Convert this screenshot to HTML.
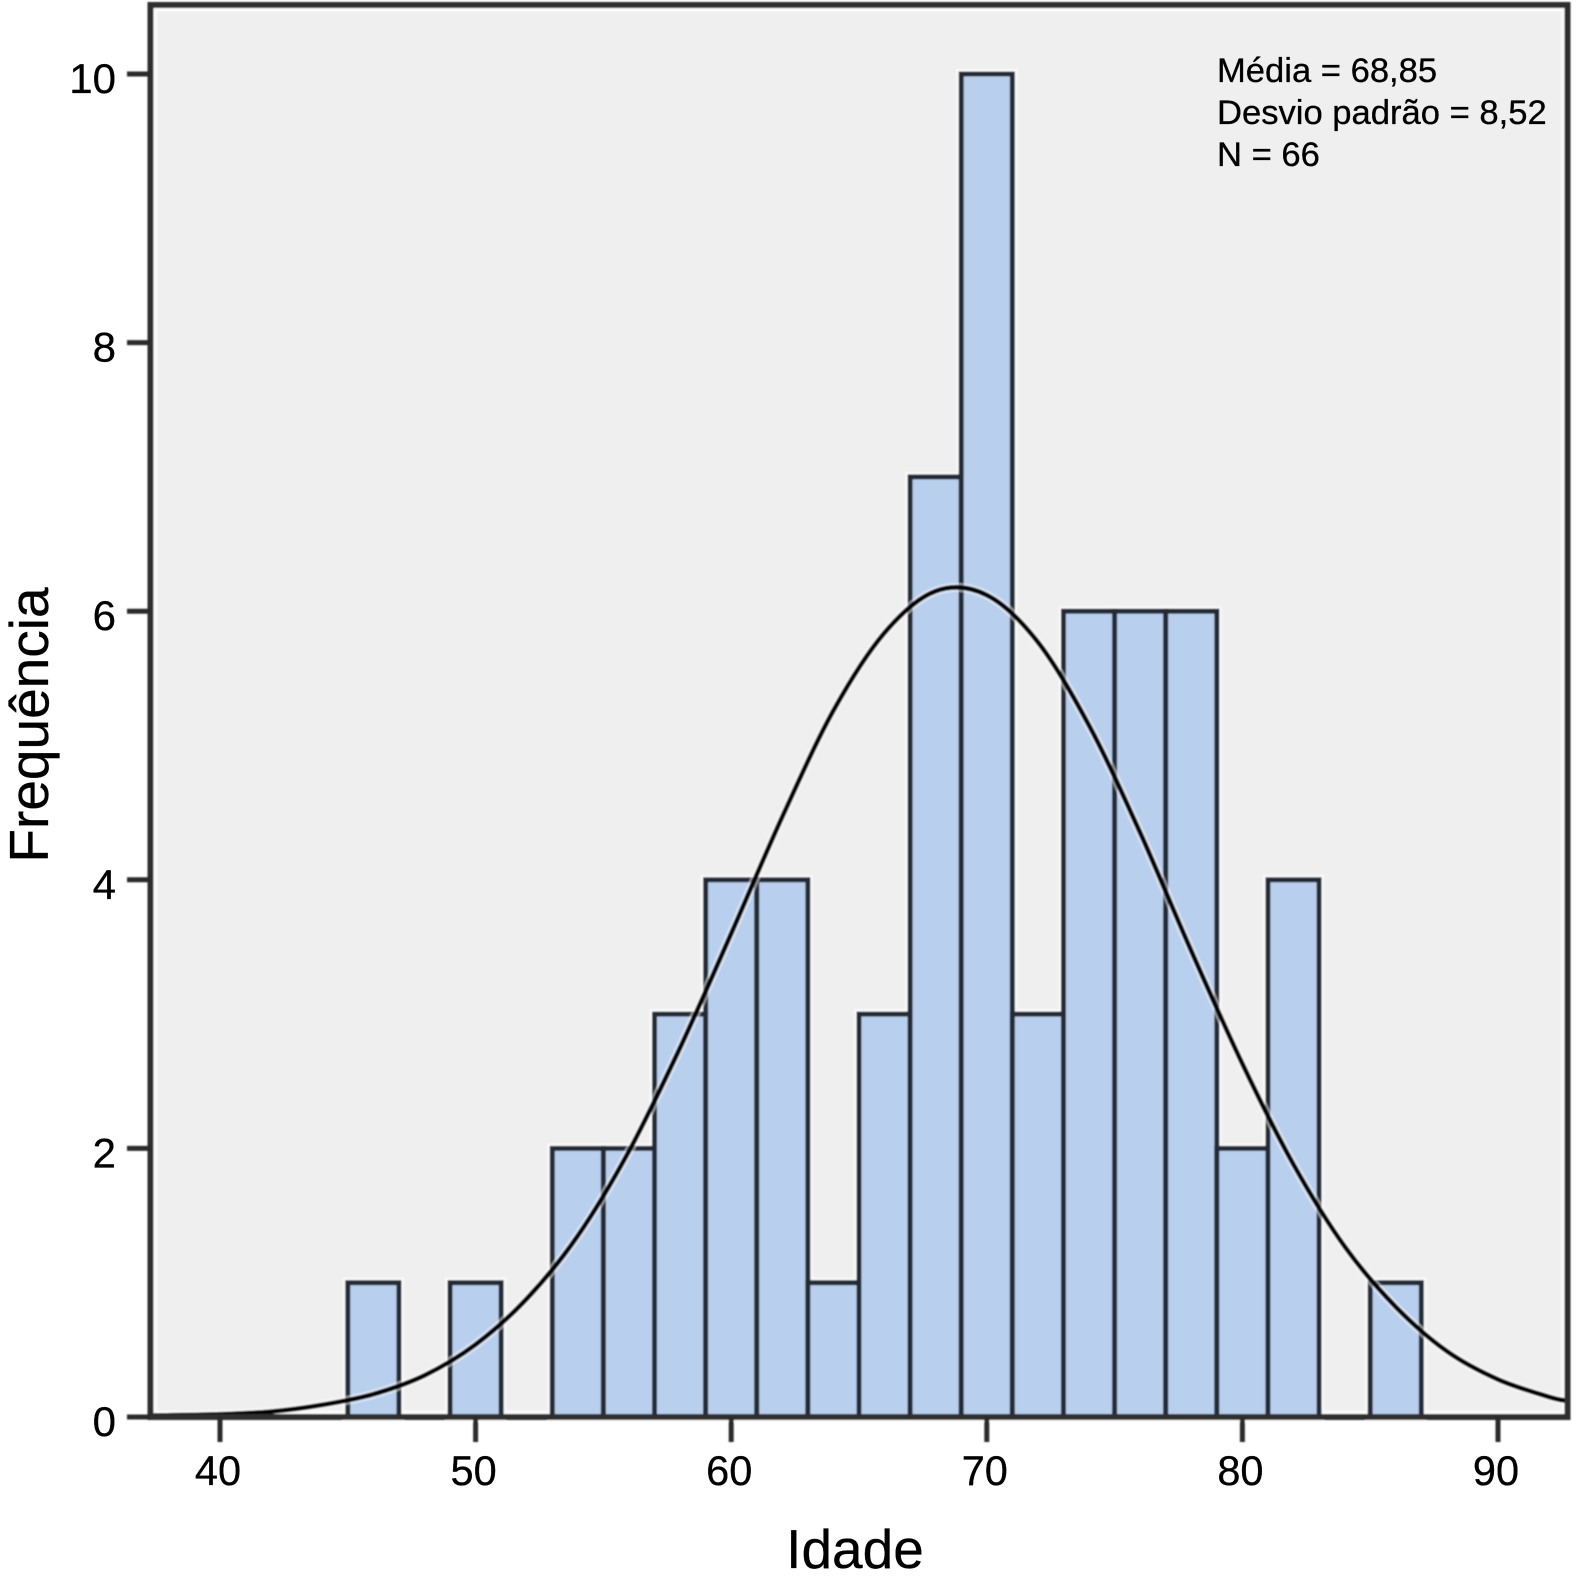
<!DOCTYPE html>
<html lang="pt">
<head>
<meta charset="utf-8">
<title>Histograma de Idade</title>
<style>
html,body{margin:0;padding:0;background:#fff;width:1578px;height:1579px;overflow:hidden}
svg{display:block}
text{font-family:"Liberation Sans",Arial,sans-serif;fill:#000;stroke:#000;stroke-width:0.3px}
</style>
</head>
<body>
<svg id="chart" xmlns="http://www.w3.org/2000/svg" width="1578" height="1579" viewBox="0 0 1578 1579">
  <defs>
    <filter id="soft" x="-2%" y="-2%" width="104%" height="104%"><feGaussianBlur stdDeviation="0.75"/></filter>
    <filter id="softText" x="-5%" y="-5%" width="110%" height="110%"><feGaussianBlur stdDeviation="0.35"/></filter>
    <clipPath id="plotClip"><rect x="150" y="5" width="1418" height="1412"/></clipPath>
  </defs>
  <rect x="0" y="0" width="1578" height="1579" fill="#ffffff"/>
  <g id="marks" filter="url(#soft)">
    <rect x="150" y="5" width="1418" height="1412" fill="#efefef"/>
    <rect x="155.5" y="10" width="1407" height="1402" fill="none" stroke="#fbfbfb" stroke-width="3"/>
    <g id="bars"></g>
    <g id="curve" clip-path="url(#plotClip)"></g>
    <rect x="150.5" y="5" width="1417" height="1412" fill="none" stroke="#2e2e2e" stroke-width="6"/>
    <g id="ticks"></g>
  </g>
  <g id="labels" filter="url(#softText)"></g>
  <g filter="url(#softText)">
    <text x="1217" y="82" font-size="34.6">Média = 68,85</text>
    <text x="1217" y="124" font-size="34.6">Desvio padrão = 8,52</text>
    <text x="1217" y="166" font-size="34.6">N = 66</text>
    <text x="855" y="1568" font-size="55" text-anchor="middle">Idade</text>
    <text transform="translate(48 725) rotate(-90)" font-size="55" text-anchor="middle">Frequência</text>
  </g>
</svg>
<script>
const binStarts = [45, 49, 53, 55, 57, 59, 61, 63, 65, 67, 69, 71, 73, 75, 77, 79, 81, 85];
const binCounts = [1, 1, 2, 2, 3, 4, 4, 1, 3, 7, 10, 3, 6, 6, 6, 2, 4, 1];
const binWidth = 2;
const xTickValues = [40, 50, 60, 70, 80, 90];
const yTickValues = [0, 2, 4, 6, 8, 10];
const curveAges = [37.3, 40, 42, 44, 46, 48, 50, 52, 54, 56, 58, 60, 62, 64, 66, 68, 70, 72, 74, 76, 78, 80, 82, 84, 86, 88, 90, 92, 92.7];
const curveFreqs = [0.01, 0.02, 0.04, 0.09, 0.17, 0.31, 0.54, 0.88, 1.35, 1.98, 2.75, 3.6, 4.47, 5.26, 5.84, 6.15, 6.12, 5.77, 5.15, 4.35, 3.47, 2.63, 1.88, 1.27, 0.82, 0.49, 0.28, 0.15, 0.12];

const NS = 'http://www.w3.org/2000/svg';
const xScale = v => 220 + (v - 40) * 25.56;
const yScale = v => 1417 - v * 134.3;
const make = (tag, parent) => { const el = document.createElementNS(NS, tag); parent.appendChild(el); return el; };

const barsGroup = document.getElementById('bars');
binStarts.forEach((start, i) => {
  const x0 = xScale(start), x1 = xScale(start + binWidth), yTop = yScale(binCounts[i]), yBase = yScale(0);
  const halo = make('rect', barsGroup);
  
  
  halo.setAttribute('x', x0);
  halo.setAttribute('y', yTop);
  halo.setAttribute('width', x1 - x0);
  halo.setAttribute('height', yBase - yTop);
  halo.setAttribute('fill', 'none');
  halo.setAttribute('stroke', '#fafafa');
  halo.setAttribute('stroke-width', '10');
});
binStarts.forEach((start, i) => {
  const x0 = xScale(start), x1 = xScale(start + binWidth), yTop = yScale(binCounts[i]), yBase = yScale(0);
  const bar = make('rect', barsGroup);
  
  
  bar.setAttribute('x', x0);
  bar.setAttribute('y', yTop);
  bar.setAttribute('width', x1 - x0);
  bar.setAttribute('height', yBase - yTop);
  bar.setAttribute('fill', '#b9cfee');
  bar.setAttribute('stroke', '#232b35');
  bar.setAttribute('stroke-width', '5');
});

const pts = curveAges.map((a, i) => [xScale(a), yScale(curveFreqs[i])]);
let d = 'M' + pts[0][0].toFixed(1) + ' ' + pts[0][1].toFixed(1);
for (let i = 0; i < pts.length - 1; i++) {
  const p0 = pts[Math.max(i - 1, 0)], p1 = pts[i], p2 = pts[i + 1], p3 = pts[Math.min(i + 2, pts.length - 1)];
  const c1x = p1[0] + (p2[0] - p0[0]) / 6, c1y = p1[1] + (p2[1] - p0[1]) / 6;
  const c2x = p2[0] - (p3[0] - p1[0]) / 6, c2y = p2[1] - (p3[1] - p1[1]) / 6;
  d += ' C' + c1x.toFixed(1) + ' ' + c1y.toFixed(1) + ' ' + c2x.toFixed(1) + ' ' + c2y.toFixed(1) + ' ' + p2[0].toFixed(1) + ' ' + p2[1].toFixed(1);
}
const curveGroup = document.getElementById('curve');
const curveHalo = make('path', curveGroup);


curveHalo.setAttribute('d', d);
curveHalo.setAttribute('fill', 'none');
curveHalo.setAttribute('stroke', '#ffffff');
curveHalo.setAttribute('stroke-opacity', '0.5');
curveHalo.setAttribute('stroke-width', '9');
const curveLine = make('path', curveGroup);


curveLine.setAttribute('d', d);
curveLine.setAttribute('fill', 'none');
curveLine.setAttribute('stroke', '#000000');
curveLine.setAttribute('stroke-width', '4.8');

const tickGroup = document.getElementById('ticks');
const labelGroup = document.getElementById('labels');
xTickValues.forEach(v => {
  const t = make('line', tickGroup);
  
  
  t.setAttribute('x1', xScale(v));
  t.setAttribute('x2', xScale(v));
  t.setAttribute('y1', 1417);
  t.setAttribute('y2', 1442);
  t.setAttribute('stroke', '#2a2a2a');
  t.setAttribute('stroke-width', '5');
  const l = make('text', labelGroup);
  
  
  l.setAttribute('x', xScale(v) - 2);
  l.setAttribute('y', 1485);
  l.setAttribute('font-size', '41.5');
  l.setAttribute('text-anchor', 'middle');
  l.textContent = v;
});
yTickValues.forEach(v => {
  const t = make('line', tickGroup);
  
  
  t.setAttribute('x1', 127);
  t.setAttribute('x2', 150);
  t.setAttribute('y1', yScale(v));
  t.setAttribute('y2', yScale(v));
  t.setAttribute('stroke', '#2a2a2a');
  t.setAttribute('stroke-width', '5');
  const l = make('text', labelGroup);
  
  
  l.setAttribute('x', 116);
  l.setAttribute('y', yScale(v) + 19);
  l.setAttribute('font-size', '42');
  l.setAttribute('text-anchor', 'end');
  l.textContent = v;
});
</script>
</body>
</html>
